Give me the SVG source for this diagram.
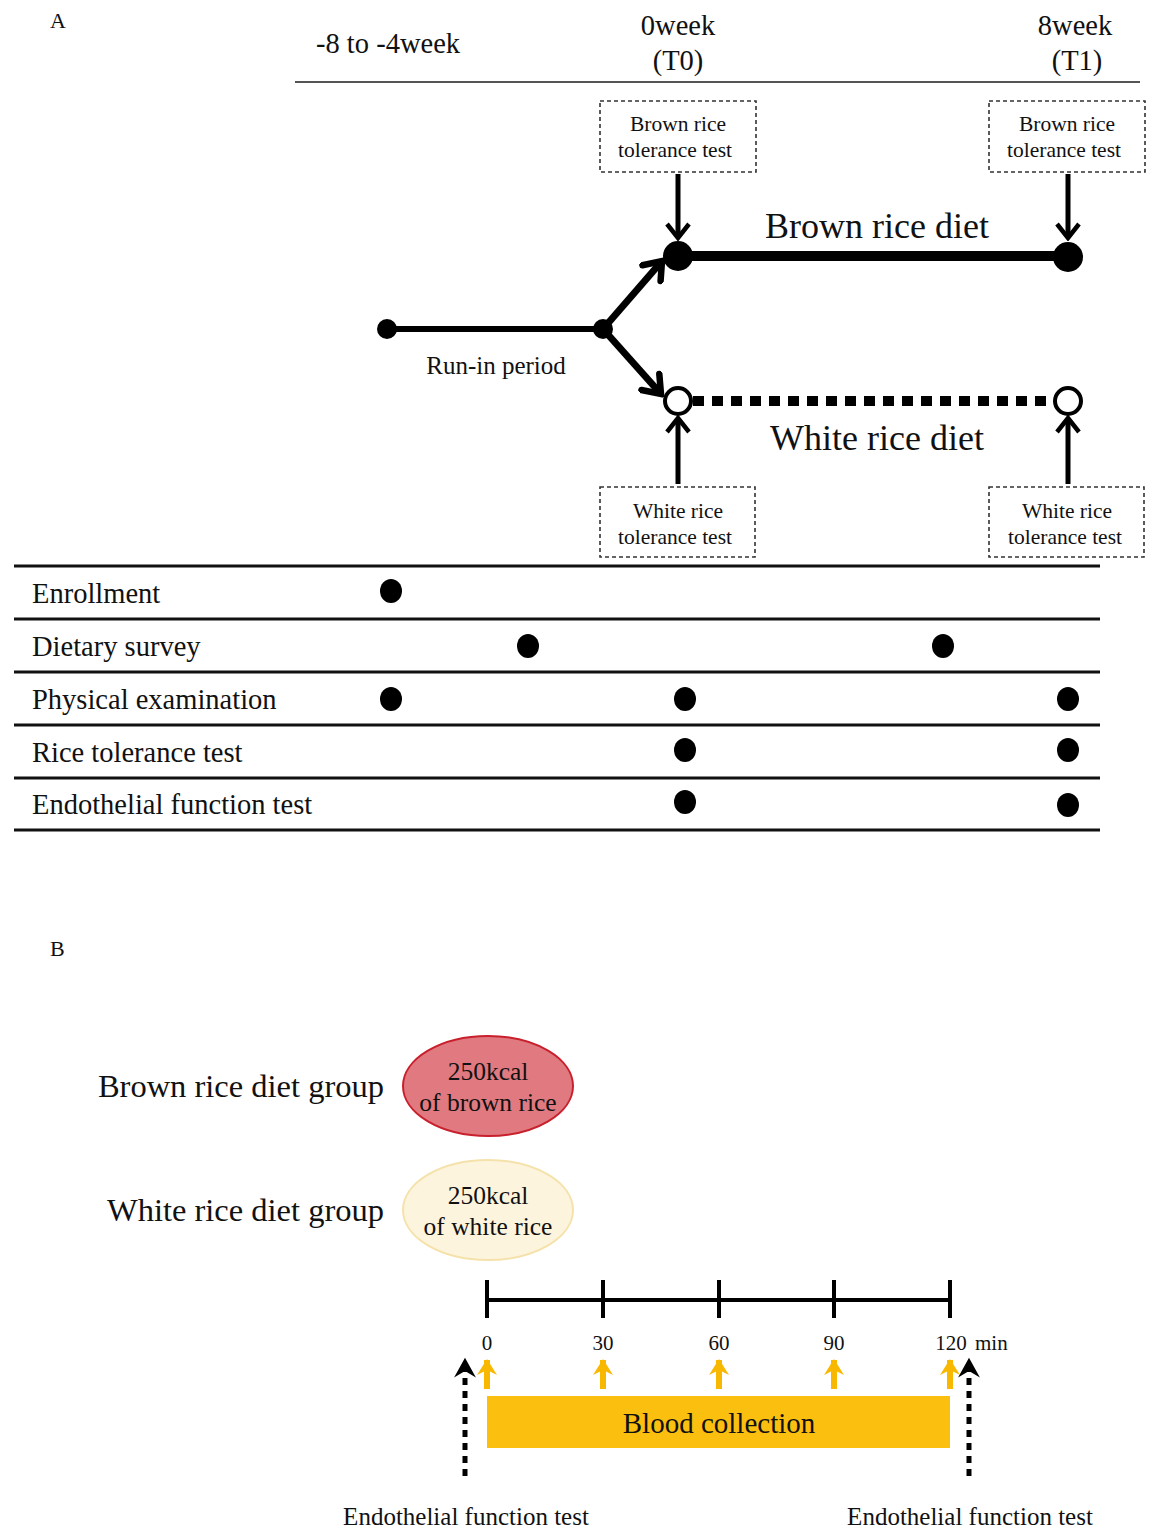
<svg xmlns="http://www.w3.org/2000/svg" width="1152" height="1530" viewBox="0 0 1152 1530">
<style>
text{font-family:"Liberation Serif","Times New Roman",serif;fill:#111}
.box{fill:#fff;stroke:#333;stroke-width:1.6;stroke-dasharray:4 3}
.bt{font-size:21.5px;text-anchor:middle}
.row{font-size:28.5px}
.rule{stroke:#111;stroke-width:3}
.arr{stroke:#000;stroke-width:5;fill:none}
.darr{stroke:#000;stroke-width:7;fill:none}
.yarr{stroke:#f9b800;stroke-width:6;fill:none}
.dot{fill:#000}
</style>
<defs>
<marker id="chev" viewBox="0 0 20 26" refX="17" refY="13" markerWidth="20" markerHeight="26" markerUnits="userSpaceOnUse" orient="auto">
<path d="M3,2 L17,13 L3,24" fill="none" stroke="#000" stroke-width="4.5"/>
</marker>
<marker id="chevL" viewBox="0 0 24 30" refX="20" refY="15" markerWidth="24" markerHeight="30" markerUnits="userSpaceOnUse" orient="auto">
<path d="M4,3 L20,15 L4,27" fill="none" stroke="#000" stroke-width="6.5" stroke-linecap="round"/>
</marker>
<marker id="ytri" viewBox="0 0 18 22" refX="16" refY="11" markerWidth="18" markerHeight="22" markerUnits="userSpaceOnUse" orient="auto">
<path d="M1,1 L17,11 L1,21 L6,11 Z" fill="#f9b800"/>
</marker>
<marker id="ktri" viewBox="0 0 20 22" refX="17" refY="11" markerWidth="22" markerHeight="24" markerUnits="userSpaceOnUse" orient="auto">
<path d="M1,1 L19,11 L1,21 L7,11 Z" fill="#000"/>
</marker>
</defs>

<text x="50" y="28" font-size="22">A</text>
<text x="316" y="53" font-size="28.5">-8 to -4week</text>
<text x="678" y="35" font-size="28.5" text-anchor="middle">0week</text>
<text x="678" y="70" font-size="28.5" text-anchor="middle">(T0)</text>
<text x="1075" y="35" font-size="28.5" text-anchor="middle">8week</text>
<text x="1077" y="70" font-size="28.5" text-anchor="middle">(T1)</text>
<line x1="295" y1="82" x2="1140" y2="82" stroke="#555" stroke-width="2"/>

<g id="connectors">
<line x1="678" y1="174" x2="678" y2="238" class="arr" marker-end="url(#chev)"/>
<line x1="1068" y1="174" x2="1068" y2="238" class="arr" marker-end="url(#chev)"/>
<line x1="678" y1="256" x2="1068" y2="256" stroke="#000" stroke-width="10"/>
<line x1="387" y1="329" x2="603" y2="329" stroke="#000" stroke-width="6"/>
<line x1="603" y1="329" x2="662" y2="261" class="darr" marker-end="url(#chevL)"/>
<line x1="603" y1="329" x2="661" y2="394" class="darr" marker-end="url(#chevL)"/>
<line x1="693" y1="401" x2="1053" y2="401" stroke="#000" stroke-width="10" stroke-dasharray="11 8"/>
<line x1="678" y1="484" x2="678" y2="418" class="arr" marker-end="url(#chev)"/>
<line x1="1068" y1="484" x2="1068" y2="418" class="arr" marker-end="url(#chev)"/>
</g>

<g id="node-brown-t0"><rect x="600" y="101" width="156" height="71" class="box"/><text x="678" y="131" class="bt">Brown rice</text><text x="675" y="157" class="bt">tolerance test</text></g>
<g id="node-brown-t1"><rect x="989" y="101" width="156" height="71" class="box"/><text x="1067" y="131" class="bt">Brown rice</text><text x="1064" y="157" class="bt">tolerance test</text></g>
<g id="node-white-t0"><rect x="600" y="487" width="155" height="70" class="box"/><text x="678" y="518" class="bt">White rice</text><text x="675" y="544" class="bt">tolerance test</text></g>
<g id="node-white-t1"><rect x="989" y="487" width="155" height="70" class="box"/><text x="1067" y="518" class="bt">White rice</text><text x="1065" y="544" class="bt">tolerance test</text></g>

<g id="node-start"><circle cx="387" cy="329" r="10" class="dot"/></g>
<g id="node-split"><circle cx="603" cy="329" r="10" class="dot"/></g>
<g id="node-brown-0"><circle cx="678" cy="256" r="15" class="dot"/></g>
<g id="node-brown-8"><circle cx="1068" cy="257" r="15" class="dot"/></g>
<g id="node-white-0"><circle cx="678" cy="401" r="13" fill="#fff" stroke="#000" stroke-width="4"/></g>
<g id="node-white-8"><circle cx="1068" cy="401" r="13" fill="#fff" stroke="#000" stroke-width="4"/></g>

<text x="877" y="238" font-size="36" text-anchor="middle">Brown rice diet</text>
<text x="496" y="374" font-size="25" text-anchor="middle">Run-in period</text>
<text x="877" y="450" font-size="36" text-anchor="middle">White rice diet</text>

<g id="table">
<line x1="14" y1="566" x2="1100" y2="566" class="rule"/>
<line x1="14" y1="619" x2="1100" y2="619" class="rule"/>
<line x1="14" y1="672" x2="1100" y2="672" class="rule"/>
<line x1="14" y1="725" x2="1100" y2="725" class="rule"/>
<line x1="14" y1="778" x2="1100" y2="778" class="rule"/>
<line x1="14" y1="830" x2="1100" y2="830" class="rule"/>
<text x="32" y="603" class="row">Enrollment</text>
<text x="32" y="656" class="row">Dietary survey</text>
<text x="32" y="709" class="row">Physical examination</text>
<text x="32" y="762" class="row">Rice tolerance test</text>
<text x="32" y="814" class="row">Endothelial function test</text>
<ellipse cx="391" cy="591" rx="11" ry="12" class="dot"/>
<ellipse cx="528" cy="646" rx="11" ry="12" class="dot"/>
<ellipse cx="943" cy="646" rx="11" ry="12" class="dot"/>
<ellipse cx="391" cy="699" rx="11" ry="12" class="dot"/>
<ellipse cx="685" cy="699" rx="11" ry="12" class="dot"/>
<ellipse cx="1068" cy="699" rx="11" ry="12" class="dot"/>
<ellipse cx="685" cy="750" rx="11" ry="12" class="dot"/>
<ellipse cx="1068" cy="750" rx="11" ry="12" class="dot"/>
<ellipse cx="685" cy="802" rx="11" ry="12" class="dot"/>
<ellipse cx="1068" cy="805" rx="11" ry="12" class="dot"/>
</g>

<text x="50" y="956" font-size="22">B</text>
<text x="384" y="1097" font-size="32.5" text-anchor="end">Brown rice diet group</text>
<text x="384" y="1221" font-size="32.5" text-anchor="end">White rice diet group</text>
<g id="node-brown-meal"><ellipse cx="488" cy="1086" rx="85" ry="50" fill="#e07a80" stroke="#c8202c" stroke-width="2"/><text x="488" y="1080" font-size="25.5" text-anchor="middle">250kcal</text><text x="488" y="1111" font-size="25.5" text-anchor="middle">of brown rice</text></g>
<g id="node-white-meal"><ellipse cx="488" cy="1210" rx="85" ry="50" fill="#fdf4de" stroke="#f5e2ab" stroke-width="2"/><text x="488" y="1204" font-size="25.5" text-anchor="middle">250kcal</text><text x="488" y="1235" font-size="25.5" text-anchor="middle">of white rice</text></g>

<g id="timeline">
<line x1="487" y1="1300" x2="950" y2="1300" stroke="#000" stroke-width="4"/>
<line x1="487" y1="1280" x2="487" y2="1318" stroke="#000" stroke-width="4"/>
<line x1="603" y1="1280" x2="603" y2="1318" stroke="#000" stroke-width="4"/>
<line x1="719" y1="1280" x2="719" y2="1318" stroke="#000" stroke-width="4"/>
<line x1="834" y1="1280" x2="834" y2="1318" stroke="#000" stroke-width="4"/>
<line x1="950" y1="1280" x2="950" y2="1318" stroke="#000" stroke-width="4"/>
<text x="487" y="1350" font-size="21" text-anchor="middle">0</text>
<text x="603" y="1350" font-size="21" text-anchor="middle">30</text>
<text x="719" y="1350" font-size="21" text-anchor="middle">60</text>
<text x="834" y="1350" font-size="21" text-anchor="middle">90</text>
<text x="951" y="1350" font-size="21" text-anchor="middle">120</text>
<text x="975" y="1350" font-size="21">min</text>
</g>

<g id="connectors-b">
<line x1="487" y1="1389" x2="487" y2="1360" class="yarr" marker-end="url(#ytri)"/>
<line x1="603" y1="1389" x2="603" y2="1360" class="yarr" marker-end="url(#ytri)"/>
<line x1="719" y1="1389" x2="719" y2="1360" class="yarr" marker-end="url(#ytri)"/>
<line x1="834" y1="1389" x2="834" y2="1360" class="yarr" marker-end="url(#ytri)"/>
<line x1="950" y1="1389" x2="950" y2="1360" class="yarr" marker-end="url(#ytri)"/>
<line x1="465" y1="1476" x2="465" y2="1360" stroke="#000" stroke-width="5" stroke-dasharray="7 6" marker-end="url(#ktri)"/>
<line x1="969" y1="1476" x2="969" y2="1360" stroke="#000" stroke-width="5" stroke-dasharray="7 6" marker-end="url(#ktri)"/>
</g>

<g id="node-blood"><rect x="487" y="1396" width="463" height="52" fill="#fbbf10"/><text x="719" y="1433" font-size="29" text-anchor="middle">Blood collection</text></g>
<text x="466" y="1525" font-size="25" text-anchor="middle">Endothelial function test</text>
<text x="970" y="1525" font-size="25" text-anchor="middle">Endothelial function test</text>
</svg>
